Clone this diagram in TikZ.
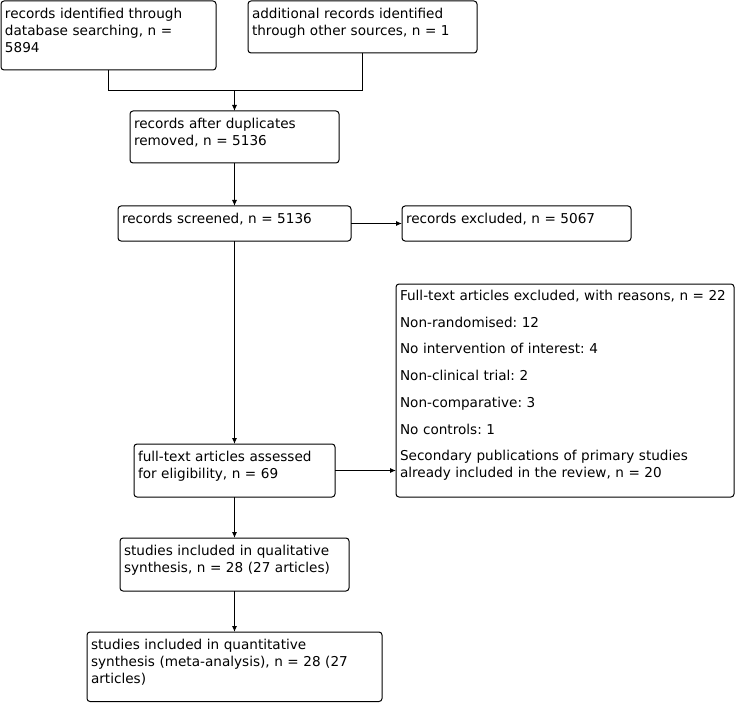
\documentclass[tikz,border=0pt]{standalone}
\usepackage{fontspec}
\setmainfont{DejaVu Sans}
\usetikzlibrary{arrows.meta,calc}
\frenchspacing
\tikzset{
  boxs/.style={draw, rounded corners=3pt, line width=1pt, inner sep=0pt, outer sep=0pt, anchor=north west},
  txt/.style={anchor=base west, inner sep=0pt, outer sep=0pt, text width=340pt, align=left,
    font=\fontsize{13.6}{17}\selectfont\frenchspacing},
  arr/.style={line width=1pt, -{Latex[length=6pt,width=5pt]}},
  ln/.style={line width=1pt}
}
\newcommand\flowbox[7]{%
  \node[boxs, minimum width=#4pt, minimum height=#5pt] (#1) at (#2,#3) {};
  \node[txt] (#1t) at ($(#1.north west)+(4,#6)$) {#7};
}
\begin{document}
\begin{tikzpicture}[x=1pt,y=-1pt]
\useasboundingbox (0,0) rectangle (735,703);
\flowbox{b1}{1}{1}{215}{69}{17.3}{records identified through\\database searching, n =\\5894}
\flowbox{b2}{248}{1}{229}{52}{17.3}{additional records identified\\through other sources, n = 1}
\flowbox{b3}{130}{111}{209}{52}{17.3}{records after duplicates\\removed, n = 5136}
\flowbox{b4}{118}{206}{233}{35}{17.3}{records screened, n = 5136}
\flowbox{b5}{402}{206}{229}{35}{17.3}{records excluded, n = 5067}
\flowbox{b7}{396}{284}{338}{213}{16.5}{Full-text articles excluded, with reasons, n = 22\\[9.7pt]
Non-randomised: 12\\[9.7pt]
No intervention of interest: 4\\[9.7pt]
Non-clinical trial: 2\\[9.7pt]
Non-comparative: 3\\[9.7pt]
No controls: 1\\[9.7pt]
Secondary publications of primary studies\\already included in the review, n = 20}
\flowbox{b6}{134}{444}{201}{53}{17.3}{full-text articles assessed\\for eligibility, n = 69}
\flowbox{b8}{120}{538}{229}{53}{17.3}{studies included in qualitative\\synthesis, n = 28 (27 articles)}
\flowbox{b9}{87}{632}{295}{69.5}{17.3}{studies included in quantitative\\synthesis (meta-analysis), n = 28 (27\\articles)}
\coordinate (m) at ($(b3.north)+(0,-20)$);
\draw[ln] (b1.south) |- (m);
\draw[ln] (b2.south) |- (m);
\draw[arr] (m) -- (b3.north);
\draw[arr] (b3.south) -- (b4.north);
\draw[arr] (b4.east) -- (b5.west);
\draw[arr] (b4.south) -- (b6.north);
\draw[arr] (b6.east) -- (b6.east -| b7.west);
\draw[arr] (b6.south) -- (b8.north);
\draw[arr] (b8.south) -- (b9.north);
\end{tikzpicture}
\end{document}
